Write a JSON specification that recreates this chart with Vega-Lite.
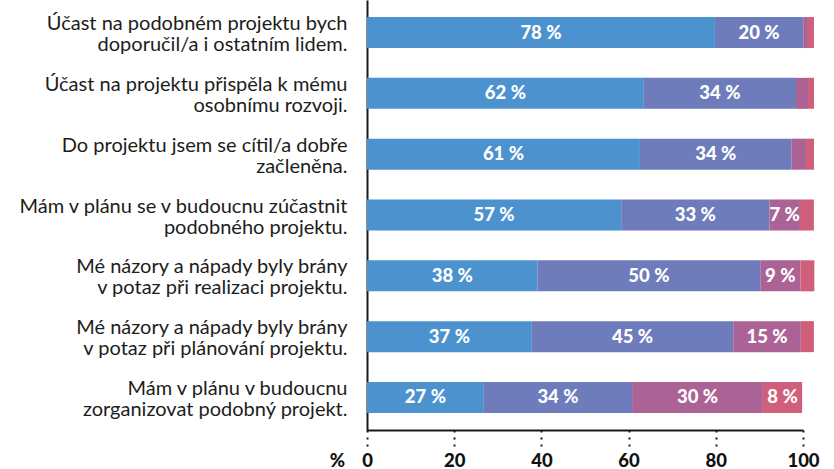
{
  "$schema": "https://vega.github.io/schema/vega-lite/v6.json",
  "autosize": "none",
  "width": 436,
  "height": 430,
  "padding": {"left": 367, "top": 0, "right": 31, "bottom": 39},
  "background": "white",
  "config": {
    "view": {"stroke": null},
    "font": "Lato"
  },
  "data": {
    "values": [
      {"q": "Účast na podobném projektu bych|doporučil/a i ostatním lidem.", "cat": "1", "value": 79.8, "label": "78 %"},
      {"q": "Účast na podobném projektu bych|doporučil/a i ostatním lidem.", "cat": "2", "value": 20.25, "label": "20 %"},
      {"q": "Účast na podobném projektu bych|doporučil/a i ostatním lidem.", "cat": "3", "value": 1.08, "label": ""},
      {"q": "Účast na podobném projektu bych|doporučil/a i ostatním lidem.", "cat": "4", "value": 1.38, "label": ""},
      {"q": "Účast na projektu přispěla k mému|osobnímu rozvoji.", "cat": "1", "value": 63.5, "label": "62 %"},
      {"q": "Účast na projektu přispěla k mému|osobnímu rozvoji.", "cat": "2", "value": 34.9, "label": "34 %"},
      {"q": "Účast na projektu přispěla k mému|osobnímu rozvoji.", "cat": "3", "value": 2.75, "label": ""},
      {"q": "Účast na projektu přispěla k mému|osobnímu rozvoji.", "cat": "4", "value": 1.38, "label": ""},
      {"q": "Do projektu jsem se cítil/a dobře|začleněna.", "cat": "1", "value": 62.6, "label": "61 %"},
      {"q": "Do projektu jsem se cítil/a dobře|začleněna.", "cat": "2", "value": 34.8, "label": "34 %"},
      {"q": "Do projektu jsem se cítil/a dobře|začleněna.", "cat": "3", "value": 3.3, "label": ""},
      {"q": "Do projektu jsem se cítil/a dobře|začleněna.", "cat": "4", "value": 1.83, "label": ""},
      {"q": "Mám v plánu se v budoucnu zúčastnit|podobného projektu.", "cat": "1", "value": 58.3, "label": "57 %"},
      {"q": "Mám v plánu se v budoucnu zúčastnit|podobného projektu.", "cat": "2", "value": 34.0, "label": "33 %"},
      {"q": "Mám v plánu se v budoucnu zúčastnit|podobného projektu.", "cat": "3", "value": 7.0, "label": "7 %"},
      {"q": "Mám v plánu se v budoucnu zúčastnit|podobného projektu.", "cat": "4", "value": 3.2, "label": ""},
      {"q": "Mé názory a nápady byly brány|v potaz při realizaci projektu.", "cat": "1", "value": 39.1, "label": "38 %"},
      {"q": "Mé názory a nápady byly brány|v potaz při realizaci projektu.", "cat": "2", "value": 51.1, "label": "50 %"},
      {"q": "Mé názory a nápady byly brány|v potaz při realizaci projektu.", "cat": "3", "value": 9.2, "label": "9 %"},
      {"q": "Mé názory a nápady byly brány|v potaz při realizaci projektu.", "cat": "4", "value": 3.2, "label": ""},
      {"q": "Mé názory a nápady byly brány|v potaz při plánování projektu.", "cat": "1", "value": 37.8, "label": "37 %"},
      {"q": "Mé názory a nápady byly brány|v potaz při plánování projektu.", "cat": "2", "value": 46.2, "label": "45 %"},
      {"q": "Mé názory a nápady byly brány|v potaz při plánování projektu.", "cat": "3", "value": 15.5, "label": "15 %"},
      {"q": "Mé názory a nápady byly brány|v potaz při plánování projektu.", "cat": "4", "value": 3.0, "label": ""},
      {"q": "Mám v plánu v budoucnu|zorganizovat podobný projekt.", "cat": "1", "value": 26.8, "label": "27 %"},
      {"q": "Mám v plánu v budoucnu|zorganizovat podobný projekt.", "cat": "2", "value": 34.0, "label": "34 %"},
      {"q": "Mám v plánu v budoucnu|zorganizovat podobný projekt.", "cat": "3", "value": 30.0, "label": "30 %"},
      {"q": "Mám v plánu v budoucnu|zorganizovat podobný projekt.", "cat": "4", "value": 9.0, "label": "8 %"}
    ]
  },
  "encoding": {
    "y": {
      "field": "q",
      "type": "nominal",
      "sort": null,
      "scale": {"paddingInner": 0.49, "paddingOuter": 0.28},
      "axis": {
        "title": null,
        "ticks": false,
        "domainColor": "#1a1a1a",
        "domainWidth": 2,
        "labelExpr": "split(datum.value, '|')",
        "labelFont": "Lato",
        "labelFontSize": 20,
        "labelColor": "#1d1d1b",
        "labelPadding": 20,
        "labelLineHeight": 21,
        "labelOffset": -8.5,
        "labelLimit": 400,
        "labelAlign": "right",
        "labelBaseline": "middle"
      }
    },
    "order": {"field": "cat", "type": "ordinal"}
  },
  "layer": [
    {
      "mark": {"type": "bar"},
      "encoding": {
        "x": {
          "field": "value",
          "type": "quantitative",
          "stack": "zero",
          "scale": {"domain": [0, 100], "nice": false},
          "axis": {
            "values": [0, 20, 40, 60, 80, 100],
            "grid": false,
            "domainColor": "#1a1a1a",
            "domainWidth": 2,
            "tickColor": "#1a1a1a",
            "tickWidth": 2,
            "tickSize": 17,
            "tickDash": [2, 5],
            "labelFont": "Lato",
            "labelFontWeight": 900,
            "labelFontSize": 18.5,
            "labelColor": "#111111",
            "labelBaseline": "alphabetic",
            "labelPadding": 19,
            "labelFlush": false,
            "title": "%",
            "titleFont": "Lato",
            "titleFontWeight": 900,
            "titleFontSize": 18.5,
            "titleColor": "#111111",
            "titleAnchor": "start",
            "titleAlign": "center",
            "titleBaseline": "alphabetic",
            "titleX": -30,
            "titleY": 36
          }
        },
        "color": {
          "field": "cat",
          "type": "nominal",
          "legend": null,
          "scale": {"domain": ["1", "2", "3", "4"], "range": ["#4B92CE", "#6E7CBB", "#AB6395", "#D05F7B"]}
        }
      }
    },
    {
      "mark": {"type": "text", "color": "white", "font": "Lato", "fontWeight": 900, "fontSize": 18.5, "baseline": "middle", "align": "center"},
      "encoding": {
        "x": {"field": "value", "type": "quantitative", "stack": "zero", "bandPosition": 0.5},
        "detail": {"field": "cat"},
        "text": {"field": "label"}
      }
    }
  ]
}
